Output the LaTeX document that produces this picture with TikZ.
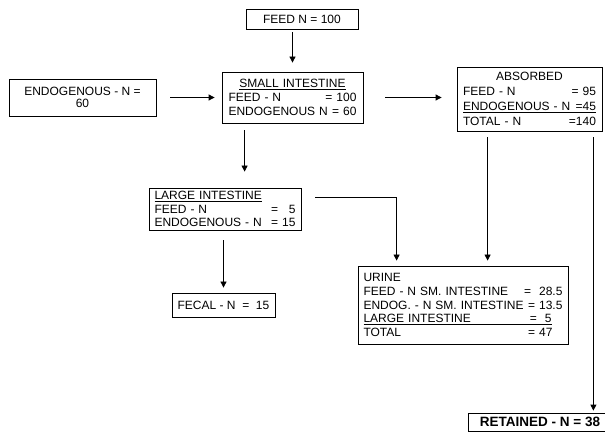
\documentclass[tikz,border=0pt]{standalone}
\usepackage{fontspec}
\setmainfont{Liberation Sans}
\usetikzlibrary{arrows.meta,positioning,calc}

\newcommand{\lrow}[2]{\makebox[\linewidth]{#1\hfill#2}}

\begin{document}
\begin{tikzpicture}[x=1pt,y=-1pt,
  box/.style={draw,rectangle,inner xsep=0pt,inner ysep=0.5pt,align=left,
    line width=0.8pt,font=\fontsize{12}{13.8}\selectfont},
  arrow/.style={-{Triangle[length=6pt,width=6pt]},line width=0.8pt},
]
  \useasboundingbox (0,0) rectangle (605,443);

  \node[box,align=center,minimum width=112pt,minimum height=20pt] (feed) at (302,19) {FEED N = 100};
  \node[box,align=center,minimum width=147pt,minimum height=37pt,
    font=\fontsize{12}{11.5}\selectfont] (endo) at (82.5,97.5) {ENDOGENOUS - N =\\60};
  \node[box,minimum width=141pt,minimum height=51pt,text width=128pt] (small) at (292.5,97.5)
    {\makebox[\linewidth]{\underline{SMALL INTESTINE}}\\
     \lrow{FEED - N}{= 100}\\
     \lrow{ENDOGENOUS N}{= 60}};
  \node[box,minimum width=145pt,minimum height=64pt,text width=133pt,
    font=\fontsize{12}{14.8}\selectfont] (absorbed) at (529.5,99)
    {\makebox[\linewidth]{ABSORBED}\\
     \lrow{FEED - N}{= 95}\\
     \underline{\lrow{ENDOGENOUS - N}{=45}}\\
     \lrow{TOTAL - N}{=140}};
  \node[box,minimum width=152pt,minimum height=42pt,text width=141pt] (large) at (225,209)
    {\underline{LARGE INTESTINE}\\
     \lrow{FEED - N}{= \phantom{1}5}\\
     \lrow{ENDOGENOUS - N}{= 15}};
  \node[box,align=center,minimum width=103pt,minimum height=24pt] (fecal) at (223.5,305)
    {FECAL - N\ \ =\ \ 15};
  \node[box,minimum width=210pt,minimum height=78pt,text width=199pt] (urine) at (463,305)
    {URINE\\
     \lrow{FEED - N SM. INTESTINE}{= \ 28.5}\\
     \lrow{ENDOG. - N SM. INTESTINE}{= 13.5}\\
     \underline{\makebox[188pt]{LARGE INTESTINE\hfill= \ 5}}\\
     \lrow{TOTAL}{= 47\phantom{.5}}};
  \node[box,align=center,minimum width=144pt,minimum height=18pt,
    font=\fontsize{13.5}{15}\selectfont\bfseries] (retained) at (540,422) {RETAINED - N = 38};

  % helper points on box edges
  \coordinate (sl) at ([xshift=23pt]small.south west);
  \coordinate (lo) at ([xshift=14pt,yshift=-10pt]large.north east);
  \coordinate (ab) at ([xshift=31pt]absorbed.south west);
  \coordinate (ar) at ([xshift=-9pt]absorbed.south east);

  \draw[arrow,shorten <=3pt,shorten >=9pt] (feed.south -| small.north) -- (small.north);
  \draw[arrow,shorten <=14pt,shorten >=7pt] (endo) -- (small);
  \draw[arrow,shorten <=22pt,shorten >=15pt] (small.east) -- (small.east -| absorbed.west);
  \draw[arrow,shorten <=7pt,shorten >=16pt] (sl) -- (sl |- large.north);
  \draw[arrow,shorten <=10pt,shorten >=5pt] (large.south -| fecal.north) -- (fecal.north);
  \draw[arrow,shorten >=5pt] (lo) -| ([xshift=39pt]urine.north west);
  \draw[arrow,shorten <=6pt,shorten >=5pt] (ab) -- (ab |- urine.north);
  \draw[arrow,shorten <=6pt,shorten >=2pt] (ar) -- (ar |- retained.north);
\end{tikzpicture}
\end{document}
